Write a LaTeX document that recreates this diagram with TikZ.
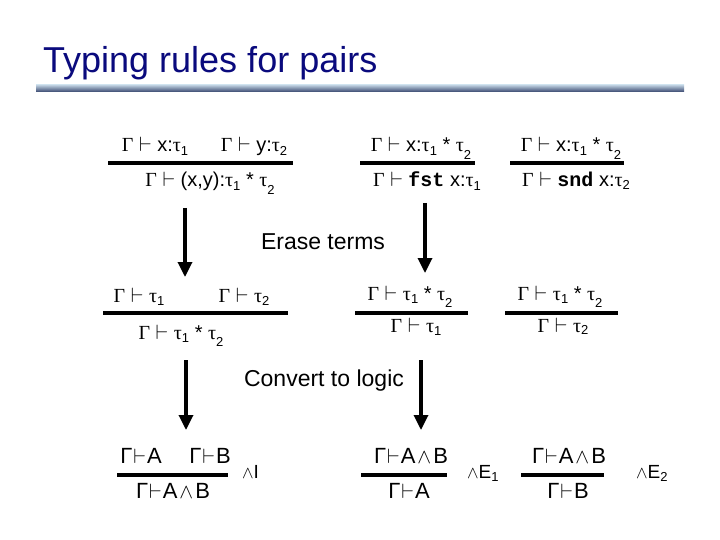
\documentclass[tikz,border=0pt]{standalone}
\usepackage{fontspec}
\setmainfont{Liberation Sans}
\newfontfamily\serifg{Liberation Serif}
\newfontfamily\monob{Liberation Mono}
\usetikzlibrary{arrows.meta}
\definecolor{titlenavy}{RGB}{10,10,125}
\definecolor{barlight}{RGB}{190,208,224}
\definecolor{bardark}{RGB}{55,70,110}
\newcommand\G{{\serifg Γ}}
\newcommand\vd{$\vdash$}
\newcommand\ta{{\serifg τ}}
\newcommand\lo[2][0.35ex]{\raisebox{-#1}{\fontsize{13}{13}\selectfont #2}}
\newcommand\LG{Γ\kern1pt$\vdash$\kern1pt}
\newcommand\wg{\kern2pt$\wedge$\kern2pt}
\begin{document}
\begin{tikzpicture}[x=1pt,y=1pt,
  t/.style={inner sep=0pt,anchor=base,font=\fontsize{20}{22}\selectfont},
  lt/.style={inner sep=0pt,anchor=base,font=\fontsize{22}{24}\selectfont},
  lab/.style={inner sep=0pt,anchor=base west,font=\fontsize{19}{22}\selectfont},
  hd/.style={inner sep=0pt,anchor=base,font=\fontsize{23}{26}\selectfont},
  rl/.style={line width=3.3pt},
  arr/.style={line width=3.3pt,-{Triangle[length=15pt,width=14pt]}}]
\useasboundingbox (0,0) rectangle (720,-540);
% title
\node[inner sep=0pt,anchor=base west,font=\fontsize{36}{40}\selectfont,text=titlenavy] (title) at (43,-73) {Typing rules for pairs};
\shade[top color=barlight,bottom color=bardark] (36,-85) rectangle (684,-92);
% ---------- row 1 ----------
\node[t] (p1a) at (155,-152) {\G\ \vd\ x:\ta\lo{1}};
\node[t] (p1b) at (254,-152) {\G\ \vd\ y:\ta\lo{2}};
\coordinate (r1l) at (108,-163); \coordinate (r1r) at (293,-163);
\draw[rl] (r1l) -- (r1r);
\node[t] (c1) at (210,-187) {\G\ \vd\ (x,y):\ta\lo{1} * \ta\lo[0.7ex]{2}};

\node[t] (p2) at (421,-152) {\G\ \vd\ x:\ta\lo{1} * \ta\lo[0.7ex]{2}};
\coordinate (r2l) at (360,-163); \coordinate (r2r) at (475,-163);
\draw[rl] (r2l) -- (r2r);
\node[t] (c2) at (427,-187) {\G\ \vd\ {\monob\bfseries fst} x:\ta\lo{1}};

\node[t] (p3) at (571,-152) {\G\ \vd\ x:\ta\lo{1} * \ta\lo[0.7ex]{2}};
\coordinate (r3l) at (510,-163); \coordinate (r3r) at (624,-163);
\draw[rl] (r3l) -- (r3r);
\node[t] (c3) at (576,-187) {\G\ \vd\ {\monob\bfseries snd} x:\ta\lo[0.2ex]{2}};

% arrows 1
\coordinate (a1s) at (185,-208); \coordinate (a1e) at (185,-277);
\draw[arr] (a1s) -- (a1e);
\coordinate (a2s) at (425,-203); \coordinate (a2e) at (425,-273);
\draw[arr] (a2s) -- (a2e);
\node[hd] (erase) at (323,-249) {Erase terms};

% ---------- row 2 ----------
\node[t] (q1a) at (139,-302) {\G\ \vd\ \ta\lo{1}};
\node[t] (q1b) at (244,-302) {\G\ \vd\ \ta\lo{2}};
\coordinate (s1l) at (103,-313); \coordinate (s1r) at (288,-313);
\draw[rl] (s1l) -- (s1r);
\node[t] (d1) at (181,-339) {\G\ \vd\ \ta\lo{1} * \ta\lo[0.7ex]{2}};

\node[t] (q2) at (410,-300) {\G\ \vd\ \ta\lo{1} * \ta\lo[0.7ex]{2}};
\coordinate (s2l) at (355,-313); \coordinate (s2r) at (468,-313);
\draw[rl] (s2l) -- (s2r);
\node[t] (d2) at (416,-332) {\G\ \vd\ \ta\lo{1}};

\node[t] (q3) at (560,-300) {\G\ \vd\ \ta\lo{1} * \ta\lo[0.7ex]{2}};
\coordinate (s3l) at (505,-313); \coordinate (s3r) at (618,-313);
\draw[rl] (s3l) -- (s3r);
\node[t] (d3) at (563,-332) {\G\ \vd\ \ta\lo[0.2ex]{2}};

% arrows 2
\coordinate (b1s) at (186,-360); \coordinate (b1e) at (186,-430);
\draw[arr] (b1s) -- (b1e);
\coordinate (b2s) at (421,-360); \coordinate (b2e) at (421,-430);
\draw[arr] (b2s) -- (b2e);
\node[hd] (conv) at (324,-386) {Convert to logic};

% ---------- row 3 ----------
\node[lt] (u1a) at (141,-463) {\LG A};
\node[lt] (u1b) at (210,-463) {\LG B};
\coordinate (v1l) at (117,-475); \coordinate (v1r) at (228,-475);
\draw[rl] (v1l) -- (v1r);
\node[lt] (w1) at (173,-498) {\LG A\wg B};
\node[lab] (li) at (242,-478) {$\wedge$I};

\node[lt] (u2) at (411,-463) {\LG A\wg B};
\coordinate (v2l) at (361,-475); \coordinate (v2r) at (447,-475);
\draw[rl] (v2l) -- (v2r);
\node[lt] (w2) at (409,-498) {\LG A};
\node[lab] (le1) at (467,-478) {$\wedge$E\lo{1}};

\node[lt] (u3) at (569,-463) {\LG A\wg B};
\coordinate (v3l) at (521,-475); \coordinate (v3r) at (604,-475);
\draw[rl] (v3l) -- (v3r);
\node[lt] (w3) at (568,-498) {\LG B};
\node[lab] (le2) at (636,-478) {$\wedge$E\lo{2}};
\end{tikzpicture}
\end{document}
